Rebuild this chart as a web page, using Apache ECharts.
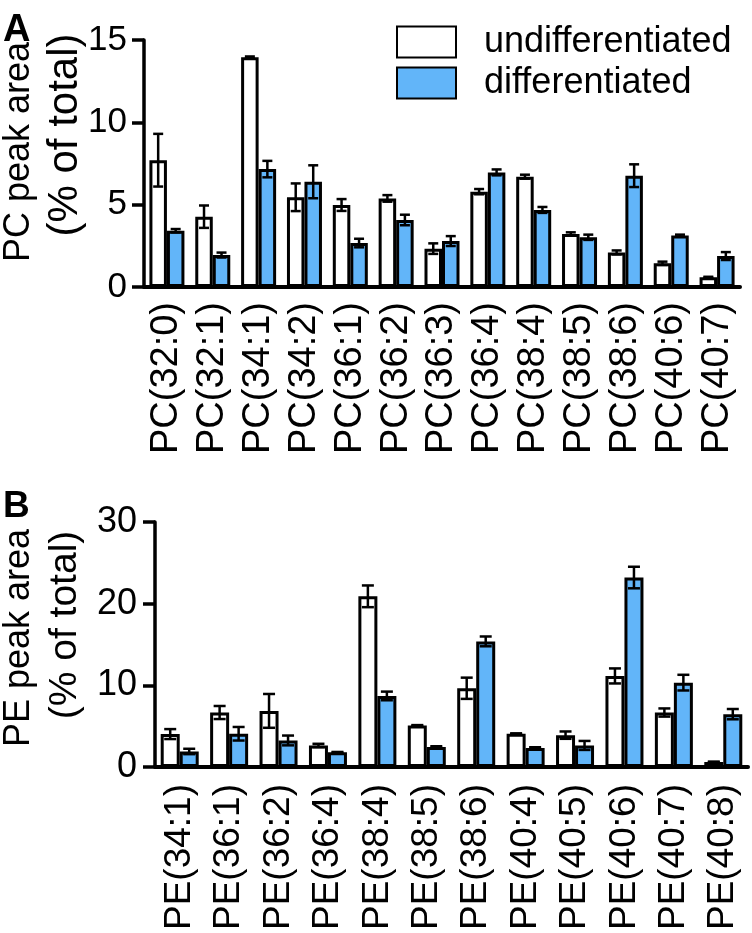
<!DOCTYPE html>
<html>
<head>
<meta charset="utf-8">
<script src="https://cdn.jsdelivr.net/npm/echarts@6/dist/echarts.min.js"></script>
<style>
html,body{margin:0;padding:0;background:#fff;}
#chart{width:752px;height:933px;}
</style>
</head>
<body>
<div id="chart"></div>
<script>
// ---------- data ----------
const seriesNames = ['undifferentiated', 'differentiated'];

const pcCategories = ['PC(32:0)', 'PC(32:1)', 'PC(34:1)', 'PC(34:2)', 'PC(36:1)', 'PC(36:2)', 'PC(36:3)', 'PC(36:4)', 'PC(38:4)', 'PC(38:5)', 'PC(38:6)', 'PC(40:6)', 'PC(40:7)'];
const pcUndiff    = [7.7, 4.27, 13.95, 5.45, 4.98, 5.38, 2.33, 5.79, 6.7, 3.22, 2.1, 1.44, 0.59];
const pcUndiffErr = [1.6, 0.68, 0.05, 0.84, 0.36, 0.2, 0.32, 0.16, 0.12, 0.1, 0.12, 0.1, 0.03];
const pcDiff      = [3.42, 1.94, 7.16, 6.39, 2.67, 4.07, 2.79, 6.96, 4.68, 3.02, 6.76, 3.12, 1.88];
const pcDiffErr   = [0.1, 0.15, 0.5, 1.0, 0.26, 0.32, 0.3, 0.18, 0.18, 0.16, 0.69, 0.06, 0.24];
const pcTicks = [0, 5, 10, 15];

const peCategories = ['PE(34:1)', 'PE(36:1)', 'PE(36:2)', 'PE(36:4)', 'PE(38:4)', 'PE(38:5)', 'PE(38:6)', 'PE(40:4)', 'PE(40:5)', 'PE(40:6)', 'PE(40:7)', 'PE(40:8)'];
const peUndiff    = [4.03, 6.67, 6.87, 2.64, 20.9, 5.08, 9.64, 4.07, 3.9, 11.15, 6.67, 0.61];
const peUndiffErr = [0.61, 0.8, 2.07, 0.2, 1.33, 0.05, 1.3, 0.05, 0.45, 0.92, 0.5, 0.05];
const peDiff      = [1.9, 4.07, 3.25, 1.79, 8.7, 2.44, 15.38, 2.32, 2.64, 23.2, 10.33, 6.47];
const peDiffErr   = [0.33, 0.83, 0.6, 0.05, 0.53, 0.1, 0.6, 0.1, 0.55, 1.32, 0.96, 0.63];
const peTicks = [0, 10, 20, 30];

const yTitleA = ['PC peak area', '(% of total)'];
const yTitleB = ['PE peak area', '(% of total)'];

// ---------- styling ----------
const FONT = '"Liberation Sans", Arial, Helvetica, sans-serif';
const BLUE = '#62b5f9';
const BW_A = 17.5, BW_B = 19;

function errSeries(name, xi, yi, means, errs, offset, capHalf) {
  return {
    type: 'custom',
    name: name,
    xAxisIndex: xi, yAxisIndex: yi,
    z: 10,
    silent: true,
    data: means.map((m, i) => [i, m, errs[i]]),
    renderItem: function (params, api) {
      const i = api.value(0), m = api.value(1), e = api.value(2);
      const top = api.coord([i, m + e]);
      const bot = api.coord([i, m - e]);
      const x = top[0] + offset;
      const st = { stroke: '#000', lineWidth: 2.5 };
      return {
        type: 'group',
        children: [
          { type: 'line', shape: { x1: x, y1: top[1], x2: x, y2: bot[1] }, style: st },
          { type: 'line', shape: { x1: x - capHalf, y1: top[1], x2: x + capHalf, y2: top[1] }, style: st },
          { type: 'line', shape: { x1: x - capHalf, y1: bot[1], x2: x + capHalf, y2: bot[1] }, style: st }
        ]
      };
    }
  };
}

function xAxisCfg(gi, cats, fs, margin) {
  return {
    type: 'category', gridIndex: gi, data: cats,
    axisLine: { lineStyle: { color: '#000', width: 4 } },
    axisTick: { alignWithLabel: true, length: 12, lineStyle: { color: '#000', width: 4 } },
    axisLabel: { interval: 0, rotate: 90, fontSize: fs, fontFamily: FONT, color: '#000', margin: margin }
  };
}
function yAxisCfg(gi, ticks, fs, margin) {
  return {
    type: 'value', gridIndex: gi,
    min: ticks[0], max: ticks[ticks.length - 1], interval: ticks[1] - ticks[0],
    axisLine: { show: true, lineStyle: { color: '#000', width: 3.5 } },
    axisTick: { show: true, length: 12, lineStyle: { color: '#000', width: 3.5 } },
    axisLabel: { fontSize: fs, fontFamily: FONT, color: '#000', margin: margin },
    splitLine: { show: false }
  };
}
function barSeries(name, xi, yi, vals, color, bw) {
  return {
    type: 'bar', name: name, xAxisIndex: xi, yAxisIndex: yi,
    data: vals, barWidth: bw, barGap: '0%',
    itemStyle: { color: color, borderColor: '#000', borderWidth: 3 },
    emphasis: { disabled: true }
  };
}
function titleText(txt, x, y, fs) {
  return {
    type: 'text', x: x, y: y, rotation: Math.PI / 2,
    style: { text: txt, fontSize: fs, fontFamily: FONT, fill: '#000', align: 'center', verticalAlign: 'middle' }
  };
}

const chart = echarts.init(document.getElementById('chart'), null, { renderer: 'canvas' });
chart.setOption({
  animation: false,
  backgroundColor: '#fff',
  legend: {
    data: seriesNames,
    orient: 'vertical', left: 391, top: 19, padding: 5,
    itemWidth: 59, itemHeight: 31, itemGap: 5,
    icon: 'rect',
    selectedMode: false,
    textStyle: { fontSize: 36, fontFamily: FONT, color: '#000', padding: [0, 0, 0, 23] }
  },
  grid: [
    { left: 144, top: 40, width: 596, height: 247 },
    { left: 155, top: 522, width: 593, height: 245 }
  ],
  xAxis: [xAxisCfg(0, pcCategories, 38, 15), xAxisCfg(1, peCategories, 37, 17)],
  yAxis: [yAxisCfg(0, pcTicks, 35, 17), yAxisCfg(1, peTicks, 36, 18)],
  graphic: [
    { type: 'text', left: 3, top: 12, style: { text: 'A', fontSize: 38, fontWeight: 'bold', fontFamily: FONT, fill: '#000' } },
    { type: 'text', left: 3, top: 488, style: { text: 'B', fontSize: 37, fontWeight: 'bold', fontFamily: FONT, fill: '#000' } },
    titleText(yTitleA[0], 19, 152, 36),
    titleText(yTitleA[1], 65, 135, 42),
    titleText(yTitleB[0], 19, 638, 36),
    titleText(yTitleB[1], 65, 625, 39)
  ],
  series: [
    barSeries(seriesNames[0], 0, 0, pcUndiff, '#fff', BW_A),
    barSeries(seriesNames[1], 0, 0, pcDiff, BLUE, BW_A),
    errSeries('errA0', 0, 0, pcUndiff, pcUndiffErr, -BW_A / 2, 5),
    errSeries('errA1', 0, 0, pcDiff, pcDiffErr, BW_A / 2, 5),
    barSeries(seriesNames[0], 1, 1, peUndiff, '#fff', BW_B),
    barSeries(seriesNames[1], 1, 1, peDiff, BLUE, BW_B),
    errSeries('errB0', 1, 1, peUndiff, peUndiffErr, -BW_B / 2, 6),
    errSeries('errB1', 1, 1, peDiff, peDiffErr, BW_B / 2, 6)
  ]
});
</script>
</body>
</html>
